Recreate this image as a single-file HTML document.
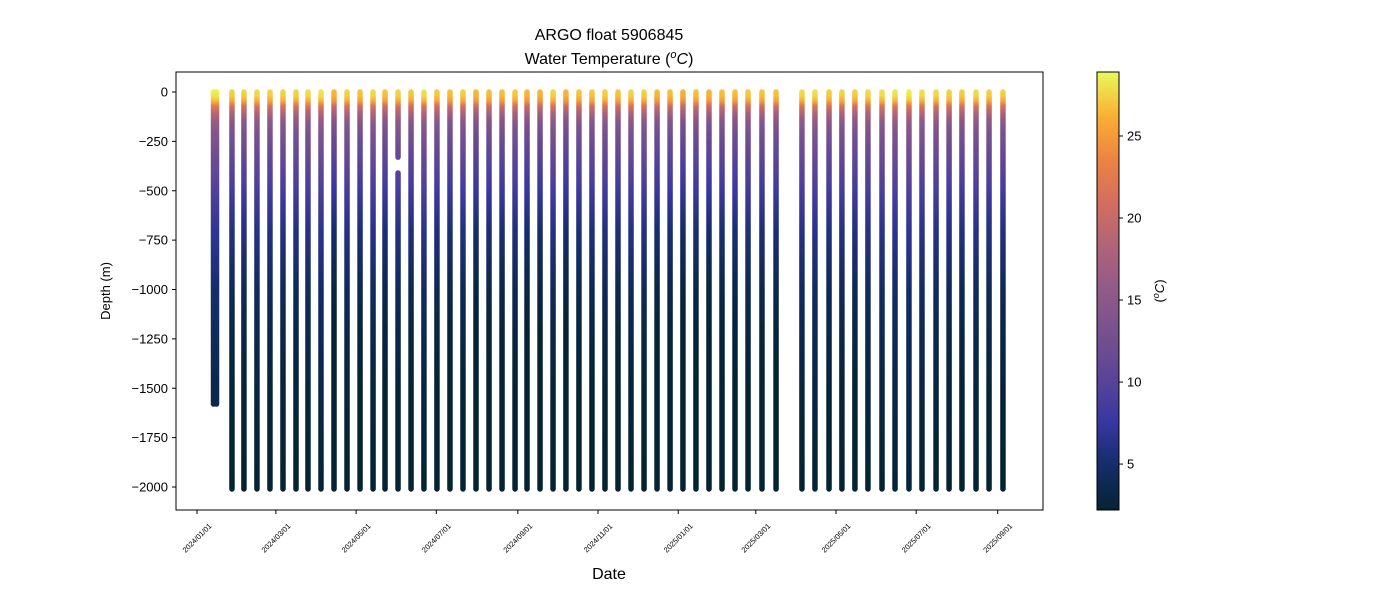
<!DOCTYPE html>
<html><head><meta charset="utf-8"><style>
body{margin:0;background:#fff;}
svg text{font-family:"Liberation Sans","DejaVu Sans",sans-serif;fill:#000;}
</style></head><body>
<svg id="chart" width="1400" height="600" xmlns="http://www.w3.org/2000/svg">
<defs id="defs"></defs>
<text x="609" y="40" font-size="16" text-anchor="middle">ARGO float 5906845</text>
<text x="609" y="64" font-size="16" text-anchor="middle">Water Temperature (<tspan font-style="italic" font-size="11" dy="-6">o</tspan><tspan font-style="italic" dy="6">C</tspan>)</text>
<g id="marks"></g>
<rect x="176" y="72" width="867" height="438" fill="none" stroke="#000" stroke-width="1"/>
<g id="yaxis"></g>
<g id="xaxis"></g>
<text transform="translate(110,291) rotate(-90)" font-size="13" text-anchor="middle">Depth (m)</text>
<text x="609" y="579" font-size="16" text-anchor="middle">Date</text>
<g id="cbar"></g>
<text transform="translate(1164,291) rotate(-90)" font-size="13" text-anchor="middle">(<tspan font-style="italic" font-size="9" dy="-5">o</tspan><tspan font-style="italic" dy="5">C</tspan>)</text>
</svg>
<script>
// data
const profileDays=[13.7,26.6,35.7,45.6,55.5,65.4,75.3,84.4,94.3,104.2,114.1,124,133.9,143,152.9,162.8,172.6,182.5,192.4,202.3,212.2,222.1,232,241.9,251,260.9,270.8,280.6,290.5,300.4,310.3,320.2,330.1,340,349.9,359.8,369.6,379.5,389.4,399.3,409.2,419.1,429.7,440.4,460.1,470,480.7,490.5,500.4,510.3,521,530.9,541.5,551.4,562.1,572,581.8,592.5,602.4,613];
const maxDepths=[1580,2010,2010,2010,2010,2010,2010,2010,2010,2010,2010,2010,2010,2010,2010,2010,2010,2010,2010,2010,2010,2010,2010,2010,2010,2010,2010,2010,2010,2010,2010,2010,2010,2010,2010,2010,2010,2010,2010,2010,2010,2010,2010,2010,2010,2010,2010,2010,2010,2010,2010,2010,2010,2010,2010,2010,2010,2010,2010,2010];
const surfaceTemps=[28.5,27.5,27.5,27.8,27.5,27.6,27.6,27.8,28.2,26.5,27.6,27,27.8,27,27.6,27.2,28,27.2,26.8,27.4,26.5,26.8,26.8,27.2,26.5,26.5,27.6,26.5,27,27.2,27.4,27,27.6,27.5,26.6,26.8,26.2,26.8,26.5,26.8,26.8,27.2,27,27,27.8,28,27.4,27.6,27.4,27.8,28,28.2,28.4,28,27.8,27.6,27.4,27.8,27.5,27.5];
const profDepths=[0,20,45,70,100,150,200,300,400,500,700,1000,1200,1500,2000];
const profOffsets=[0,-0.3,-1.8,-6,-9,-12.5,-14,-16,-17.5,-19,-21.5,-23.5,-24.2,-25,-25.8];
const gapProfile=14, gapRange=[330,410];
const yTicks=[0,-250,-500,-750,-1000,-1250,-1500,-1750,-2000];
const xTickDays=[0,60,121,182,244,305,366,425,486,547,609];
const xTickLabels=["2024/01/01","2024/03/01","2024/05/01","2024/07/01","2024/09/01","2024/11/01","2025/01/01","2025/03/01","2025/05/01","2025/07/01","2025/09/01"];
const cbTicks=[5,10,15,20,25];
const tMin=2.2,tMax=28.9;

const NS="http://www.w3.org/2000/svg";
const X=d=>197+d*1.3148;
const Y=v=>92+(-v)*0.1975;
const CY=t=>510-(t-tMin)/(tMax-tMin)*438;
const cmap=[[0,[4,35,51]],[0.1,[20,45,105]],[0.2,[55,55,160]],[0.3,[90,68,152]],[0.4,[118,80,142]],[0.5,[145,90,137]],[0.6,[176,99,122]],[0.7,[210,110,95]],[0.8,[236,131,66]],[0.9,[250,175,52]],[1,[232,250,91]]];
function color(t){let f=Math.max(0,Math.min(1,(t-tMin)/(tMax-tMin)));for(let i=1;i<cmap.length;i++){if(f<=cmap[i][0]){const a=cmap[i-1],b=cmap[i],r=(f-a[0])/(b[0]-a[0]);return`rgb(${a[1].map((c,k)=>Math.round(c+(b[1][k]-c)*r)).join(',')})`;}}return'rgb(232,250,91)';}
function el(tag,attrs,parent){const e=document.createElementNS(NS,tag);for(const k in attrs)e.setAttribute(k,attrs[k]);parent.appendChild(e);return e;}
const defs=document.getElementById('defs'),marks=document.getElementById('marks');
function grad(id,sT){const g=el('linearGradient',{id:id,gradientUnits:'userSpaceOnUse',x1:0,x2:0,y1:Y(0),y2:Y(-2000)},defs);
 profDepths.forEach((d,i)=>{el('stop',{offset:(d/2000),'stop-color':color(sT+profOffsets[i])},g);});}
profileDays.forEach((d,i)=>{
 const id='g'+i;grad(id,surfaceTemps[i]);
 const x=X(d);
 const segs=(i===gapProfile)?[[0,gapRange[0]],[gapRange[1],maxDepths[i]]]:[[0,maxDepths[i]]];
 const xs=(i===0)?[x-1.5,x+1.5]:[x];
 xs.forEach(xx=>segs.forEach(s=>{
  const l=el('line',{x1:xx,x2:xx,y1:Y(-s[0]),y2:Y(-s[1]),stroke:`url(#${id})`,'stroke-width':5.5,'stroke-linecap':'round'},marks);
  
  
 }));
 if(i===0){const l=el('line',{x1:x-3,x2:x-3,y1:Y(0),y2:Y(-1200),stroke:`url(#${id})`,'stroke-width':2},marks);
  
  }
});
const ya=document.getElementById('yaxis');
yTicks.forEach(v=>{const y=Y(v);el('line',{x1:172,x2:176,y1:y,y2:y,stroke:'#000'},ya);
 const t=el('text',{x:168,y:y+4.5,'font-size':13,'text-anchor':'end'},ya);t.textContent=(v<0?'\u2212'+(-v):v);
 
 });
const xa=document.getElementById('xaxis');
xTickDays.forEach((d,i)=>{const x=X(d);el('line',{x1:x,x2:x,y1:510,y2:514,stroke:'#000'},xa);
 const t=el('text',{transform:`translate(${x},${538}) rotate(-45)`,'font-size':7.5,'text-anchor':'middle',dy:'0.35em'},xa);t.textContent=xTickLabels[i];
 
 });
const cb=document.getElementById('cbar');
const cg=el('linearGradient',{id:'cbg',x1:0,x2:0,y1:1,y2:0},defs);
cmap.forEach(s=>el('stop',{offset:s[0],'stop-color':`rgb(${s[1].join(',')})`},cg));
el('rect',{x:1097,y:72,width:22,height:438,fill:'url(#cbg)',stroke:'#000','stroke-width':1},cb);
cbTicks.forEach(v=>{const y=CY(v);el('line',{x1:1119,x2:1123,y1:y,y2:y,stroke:'#000'},cb);
 const t=el('text',{x:1127,y:y+4.5,'font-size':13},cb);t.textContent=v;
 
 });
</script>
</body></html>
